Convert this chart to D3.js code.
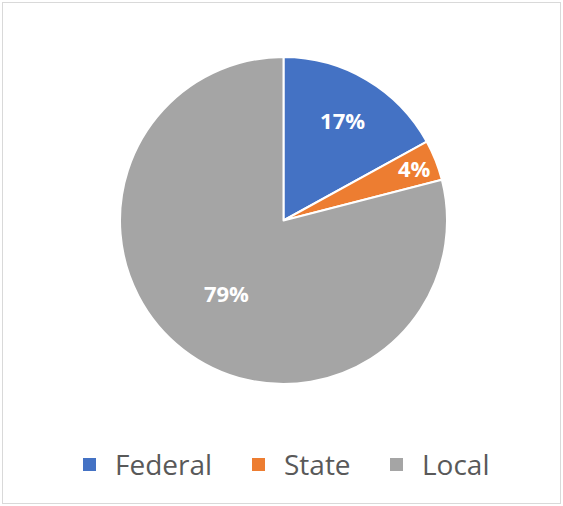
<!DOCTYPE html>
<html><head><meta charset="utf-8">
<script src="https://cdn.jsdelivr.net/npm/d3@7"></script>
<style>html,body{margin:0;padding:0;background:#fff;}svg{display:block;}</style>
</head><body>
<svg id="chart" width="563" height="506"></svg>
<script>
const categories = ["Federal", "State", "Local"];
const values = [17, 4, 79];
const labels = ["17%", "4%", "79%"];
const colors = ["#4472C4", "#ED7D31", "#A5A5A5"];

const svg = d3.select("#chart");
svg.append("rect").attr("x", 2.5).attr("y", 2.5).attr("width", 558).attr("height", 501)
  .attr("fill", "#fff").attr("stroke", "#d9d9d9").attr("stroke-width", 1);

const cx = 283.5, cy = 220.5, R = 163.5;
const labelR = [0.71, 0.86, 0.57];
const pie = d3.pie().sort(null).value(d => d)(values);
const arc = d3.arc().innerRadius(0).outerRadius(R);
const g = svg.append("g").attr("transform", `translate(${cx},${cy})`);
g.selectAll("path").data(pie).join("path")
  .attr("d", arc)
  .attr("fill", (d, i) => colors[i])
  .attr("stroke", "#fff").attr("stroke-width", 2).attr("stroke-linejoin", "round");

g.selectAll("text").data(pie).join("text")
  .attr("x", (d, i) => Math.sin((d.startAngle + d.endAngle) / 2) * R * labelR[i])
  .attr("y", (d, i) => -Math.cos((d.startAngle + d.endAngle) / 2) * R * labelR[i])
  .attr("dy", "0.36em")
  .attr("text-anchor", "middle")
  .attr("fill", "#fff")
  .attr("font-family", "'Open Sans', sans-serif")
  .attr("font-weight", "bold")
  .attr("font-size", 22)
  .text((d, i) => labels[i]);

const legendX = [83, 252, 390];
const lg = svg.append("g");
categories.forEach((c, i) => {
  lg.append("rect").attr("x", legendX[i]).attr("y", 458).attr("width", 13).attr("height", 13)
    .attr("fill", colors[i]);
  lg.append("text").attr("x", legendX[i] + 32).attr("y", 475)
    .attr("font-family", "'Open Sans', sans-serif").attr("font-size", 28)
    .attr("fill", "#595959").text(c);
});
</script>
</body></html>
